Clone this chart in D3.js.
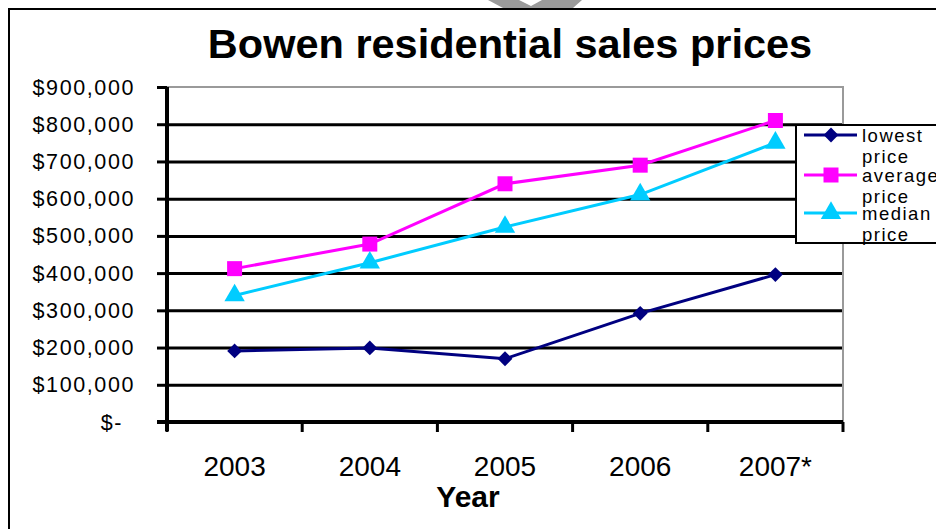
<!DOCTYPE html>
<html><head><meta charset="utf-8">
<script src="https://cdn.jsdelivr.net/npm/d3@7"></script>
<style>html,body{margin:0;padding:0;background:#fff;}svg{display:block;}</style>
</head><body>
<svg id="chart" width="936" height="529"></svg>
<script>
const categories = ["2003", "2004", "2005", "2006", "2007*"];
const lowestPrice = [191000, 199000, 170000, 292000, 396000];
const averagePrice = [412000, 478000, 640000, 690000, 810000];
const medianPrice = [340000, 428000, 524000, 611000, 750000];
const yTickValues = [0, 100000, 200000, 300000, 400000, 500000, 600000, 700000, 800000, 900000];
const yTickLabels = ["$-", "$100,000", "$200,000", "$300,000", "$400,000", "$500,000", "$600,000", "$700,000", "$800,000", "$900,000"];
const seriesNames = ["lowest price", "average price", "median price"];

(function () {
const FONT = "'Liberation Sans', Arial, sans-serif";
const svg = d3.select("#chart");

// decorative grey shape at top edge
svg.append("path").attr("d", "M488,0 L582,0 L573,8 L503,8 Z").attr("fill", "#9a9a9a");
svg.append("path").attr("d", "M519,0 L542,0 L531,6 Z").attr("fill", "#fff");

// outer chart frame (left and top visible)
svg.append("rect").attr("x", 9).attr("y", 9).attr("width", 1000).attr("height", 1000)
  .attr("fill", "none").attr("stroke", "#000").attr("stroke-width", 2);

const pl = 167, pr = 843, pt = 87, pb = 422;
const x = d3.scaleBand().domain(categories).range([pl, pr]).padding(0);
const y = d3.scaleLinear().domain([0, 900000]).range([pb, pt]);

// gridlines
svg.append("g").attr("transform", `translate(${pl},0)`)
  .call(d3.axisLeft(y).tickValues(yTickValues.slice(1, -1)).tickSize(-(pr - pl)).tickFormat(""))
  .call(g => g.select(".domain").remove())
  .call(g => g.selectAll("line").attr("stroke", "#000").attr("stroke-width", 3));

// plot area border (grey)
svg.append("path").attr("d", `M${pl},${pt} L${pr},${pt} L${pr},${pb}`)
  .attr("fill", "none").attr("stroke", "#9a9a9a").attr("stroke-width", 2);

// y axis
const yAxis = svg.append("g").attr("transform", `translate(${pl},0)`)
  .call(d3.axisLeft(y).tickValues(yTickValues).tickSize(10).tickSizeOuter(0)
    .tickFormat((d, i) => yTickLabels[i]));
yAxis.select(".domain").attr("stroke", "#000").attr("stroke-width", 4)
  .attr("d", `M0,${pt} V${pb + 9}`);
yAxis.selectAll(".tick line").attr("stroke", "#000").attr("stroke-width", 3);
yAxis.selectAll(".tick text").attr("font-family", FONT).attr("font-size", 21.5)
  .attr("letter-spacing", "1.6px").attr("fill", "#000")
  .attr("x", (d) => d === 0 ? -44 : -32).attr("dy", "0.33em");

// x axis
const xAxis = svg.append("g").attr("transform", `translate(0,${pb})`)
  .call(d3.axisBottom(x).tickSize(0).tickSizeOuter(0));
xAxis.select(".domain").attr("stroke", "#000").attr("stroke-width", 4)
  .attr("d", `M${pl - 10},0 H${pr}`);
xAxis.selectAll(".tick text").attr("font-family", FONT).attr("font-size", 28)
  .attr("fill", "#000").attr("y", 54).attr("dy", 0);
const bounds = categories.map(c => x(c)).concat([pr]);
xAxis.selectAll(".bnd").data(bounds).join("line").attr("class", "bnd")
  .attr("x1", d => d).attr("x2", d => d).attr("y1", 0).attr("y2", 10)
  .attr("stroke", "#000").attr("stroke-width", 3);

// title and axis title
svg.append("text").attr("x", 510).attr("y", 58).attr("text-anchor", "middle")
  .attr("font-family", FONT).attr("font-weight", "bold").attr("font-size", 41.5)
  .text("Bowen residential sales prices");
svg.append("text").attr("x", 468).attr("y", 507).attr("text-anchor", "middle")
  .attr("font-family", FONT).attr("font-weight", "bold").attr("font-size", 30)
  .text("Year");

const series = [
  { name: seriesNames[0], values: lowestPrice, color: "#000080", sym: d3.symbolSquare, size: 110, rot: 45 },
  { name: seriesNames[1], values: averagePrice, color: "#FF00FF", sym: d3.symbolSquare, size: 225, rot: 0 },
  { name: seriesNames[2], values: medianPrice, color: "#00CCFF", sym: d3.symbolTriangle, size: 180, rot: 0 }
];
const cx = c => x(c) + x.bandwidth() / 2;
const line = d3.line().x((d, i) => cx(categories[i])).y(d => y(d));

series.forEach(s => {
  svg.append("path").datum(s.values).attr("d", line)
    .attr("fill", "none").attr("stroke", s.color).attr("stroke-width", 3);
  svg.append("g").selectAll("path").data(s.values).join("path")
    .attr("transform", (d, i) => `translate(${cx(categories[i])},${y(d)}) rotate(${s.rot})`)
    .attr("d", d3.symbol().type(s.sym).size(s.size)).attr("fill", s.color);
});

// legend
const lg = svg.append("g");
lg.append("rect").attr("x", 796).attr("y", 125).attr("width", 200).attr("height", 118)
  .attr("fill", "#fff").attr("stroke", "#000").attr("stroke-width", 2);
const rowY = [135, 175, 213];
series.forEach((s, i) => {
  const g = lg.append("g").attr("transform", `translate(0,${rowY[i]})`);
  g.append("line").attr("x1", 804).attr("x2", 857).attr("y1", 0).attr("y2", 0)
    .attr("stroke", s.color).attr("stroke-width", 3);
  g.append("path").attr("transform", `translate(831,0) rotate(${s.rot})`)
    .attr("d", d3.symbol().type(s.sym).size(s.size)).attr("fill", s.color);
  const parts = s.name.split(" ");
  const t = g.append("text").attr("font-family", FONT).attr("font-size", 18.5)
    .attr("letter-spacing", "1.5px").attr("fill", "#000");
  t.append("tspan").attr("x", 862).attr("y", 7).text(parts[0]);
  t.append("tspan").attr("x", 862).attr("y", 28).text(parts[1]);
});
})();
</script>
</body></html>
